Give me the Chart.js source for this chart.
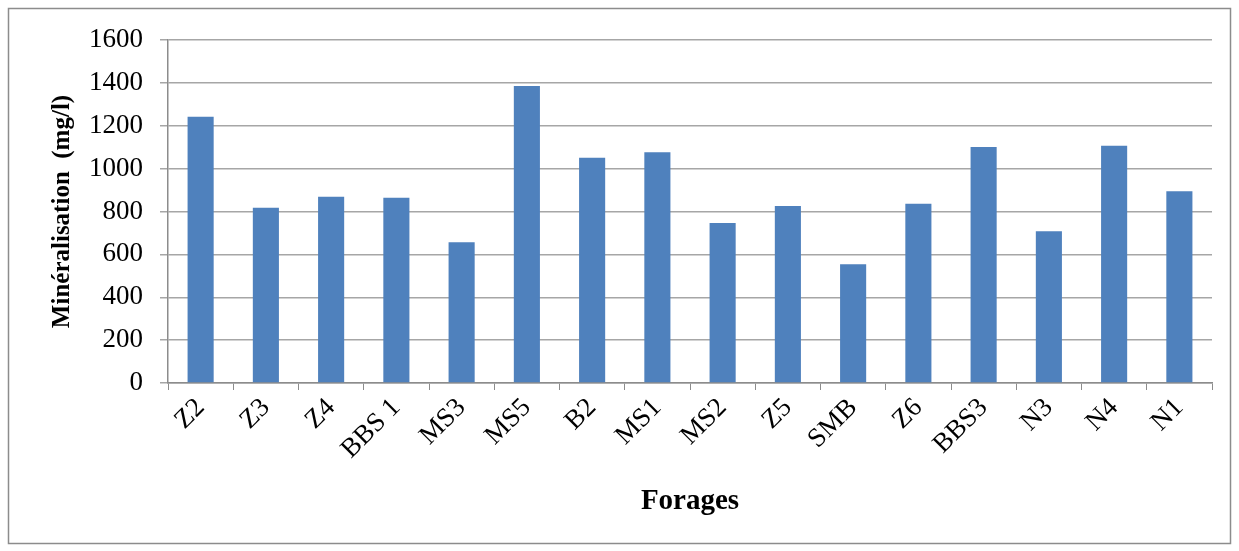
<!DOCTYPE html>
<html>
<head>
<meta charset="utf-8">
<script src="https://cdn.jsdelivr.net/npm/chart.js@4.4.1/dist/chart.umd.min.js"></script>
<style>
  html, body { margin: 0; padding: 0; background: #ffffff; }
  #wrap { width: 1239px; height: 551px; position: relative; }
</style>
</head>
<body>
<div id="wrap"><canvas id="c" width="1239" height="551"></canvas></div>
<script>
const categories = ["Z2", "Z3", "Z4", "BBS 1", "MS3", "MS5", "B2", "MS1", "MS2", "Z5", "SMB", "Z6", "BBS3", "N3", "N4", "N1"];
const mineralisation = [1242, 817, 869, 864, 656, 1385, 1051, 1076, 746, 826, 554, 836, 1101, 708, 1107, 894];
const yTicks = [0, 200, 400, 600, 800, 1000, 1200, 1400, 1600];
const yTitle = "Minéralisation  (mg/l)";
const xTitle = "Forages";

const borderPlugin = {
  id: 'outerBorder',
  beforeDraw(chart) {
    const ctx = chart.ctx;
    ctx.save();
    ctx.fillStyle = '#ffffff';
    ctx.fillRect(0, 0, chart.width, chart.height);
    ctx.strokeStyle = '#8c8c8c';
    ctx.lineWidth = 1.5;
    ctx.strokeRect(8.5, 8.5, 1222, 535);
    ctx.restore();
  }
};

new Chart(document.getElementById('c'), {
  type: 'bar',
  data: {
    labels: categories,
    datasets: [{
      data: mineralisation,
      backgroundColor: '#4F81BD',
      borderWidth: 0,
      barPercentage: 0.8,
      categoryPercentage: 0.5
    }]
  },
  options: {
    responsive: false,
    animation: false,
    devicePixelRatio: 1,
    layout: { padding: { left: 0, top: 40, right: 27, bottom: 0 } },
    plugins: { legend: { display: false }, tooltip: { enabled: false } },
    scales: {
      x: {
        afterFit(scale) { scale.height = 168; },
        grid: { display: true, drawOnChartArea: false, drawTicks: true, tickLength: 7, color: '#8c8c8c', lineWidth: 1 },
        border: { display: true, color: '#8c8c8c', width: 1.5 },
        ticks: {
          font: { family: 'Liberation Serif', size: 27 },
          color: '#000000',
          minRotation: 45, maxRotation: 45,
          padding: 2,
          autoSkip: false
        },
        title: {
          display: true, text: xTitle,
          font: { family: 'Liberation Serif', size: 29, weight: 'bold' },
          color: '#000000',
          padding: { top: 0, bottom: 32 }
        }
      },
      y: {
        min: 0, max: 1600,
        afterFit(scale) { scale.width = 168; },
        afterBuildTicks(scale) { scale.ticks = yTicks.map(v => ({ value: v })); },
        grid: { color: '#a6a6a6', lineWidth: 1.5, tickLength: 8, drawTicks: true },
        border: { display: true, color: '#8c8c8c', width: 1.5 },
        ticks: {
          font: { family: 'Liberation Serif', size: 27 },
          color: '#000000',
          padding: 17,
          callback: (v) => String(v)
        },
        title: {
          display: true, text: yTitle,
          font: { family: 'Liberation Serif', size: 25, weight: 'bold' },
          color: '#000000',
          padding: { top: 48, bottom: 0 }
        }
      }
    }
  },
  plugins: [borderPlugin]
});
</script>
</body>
</html>
